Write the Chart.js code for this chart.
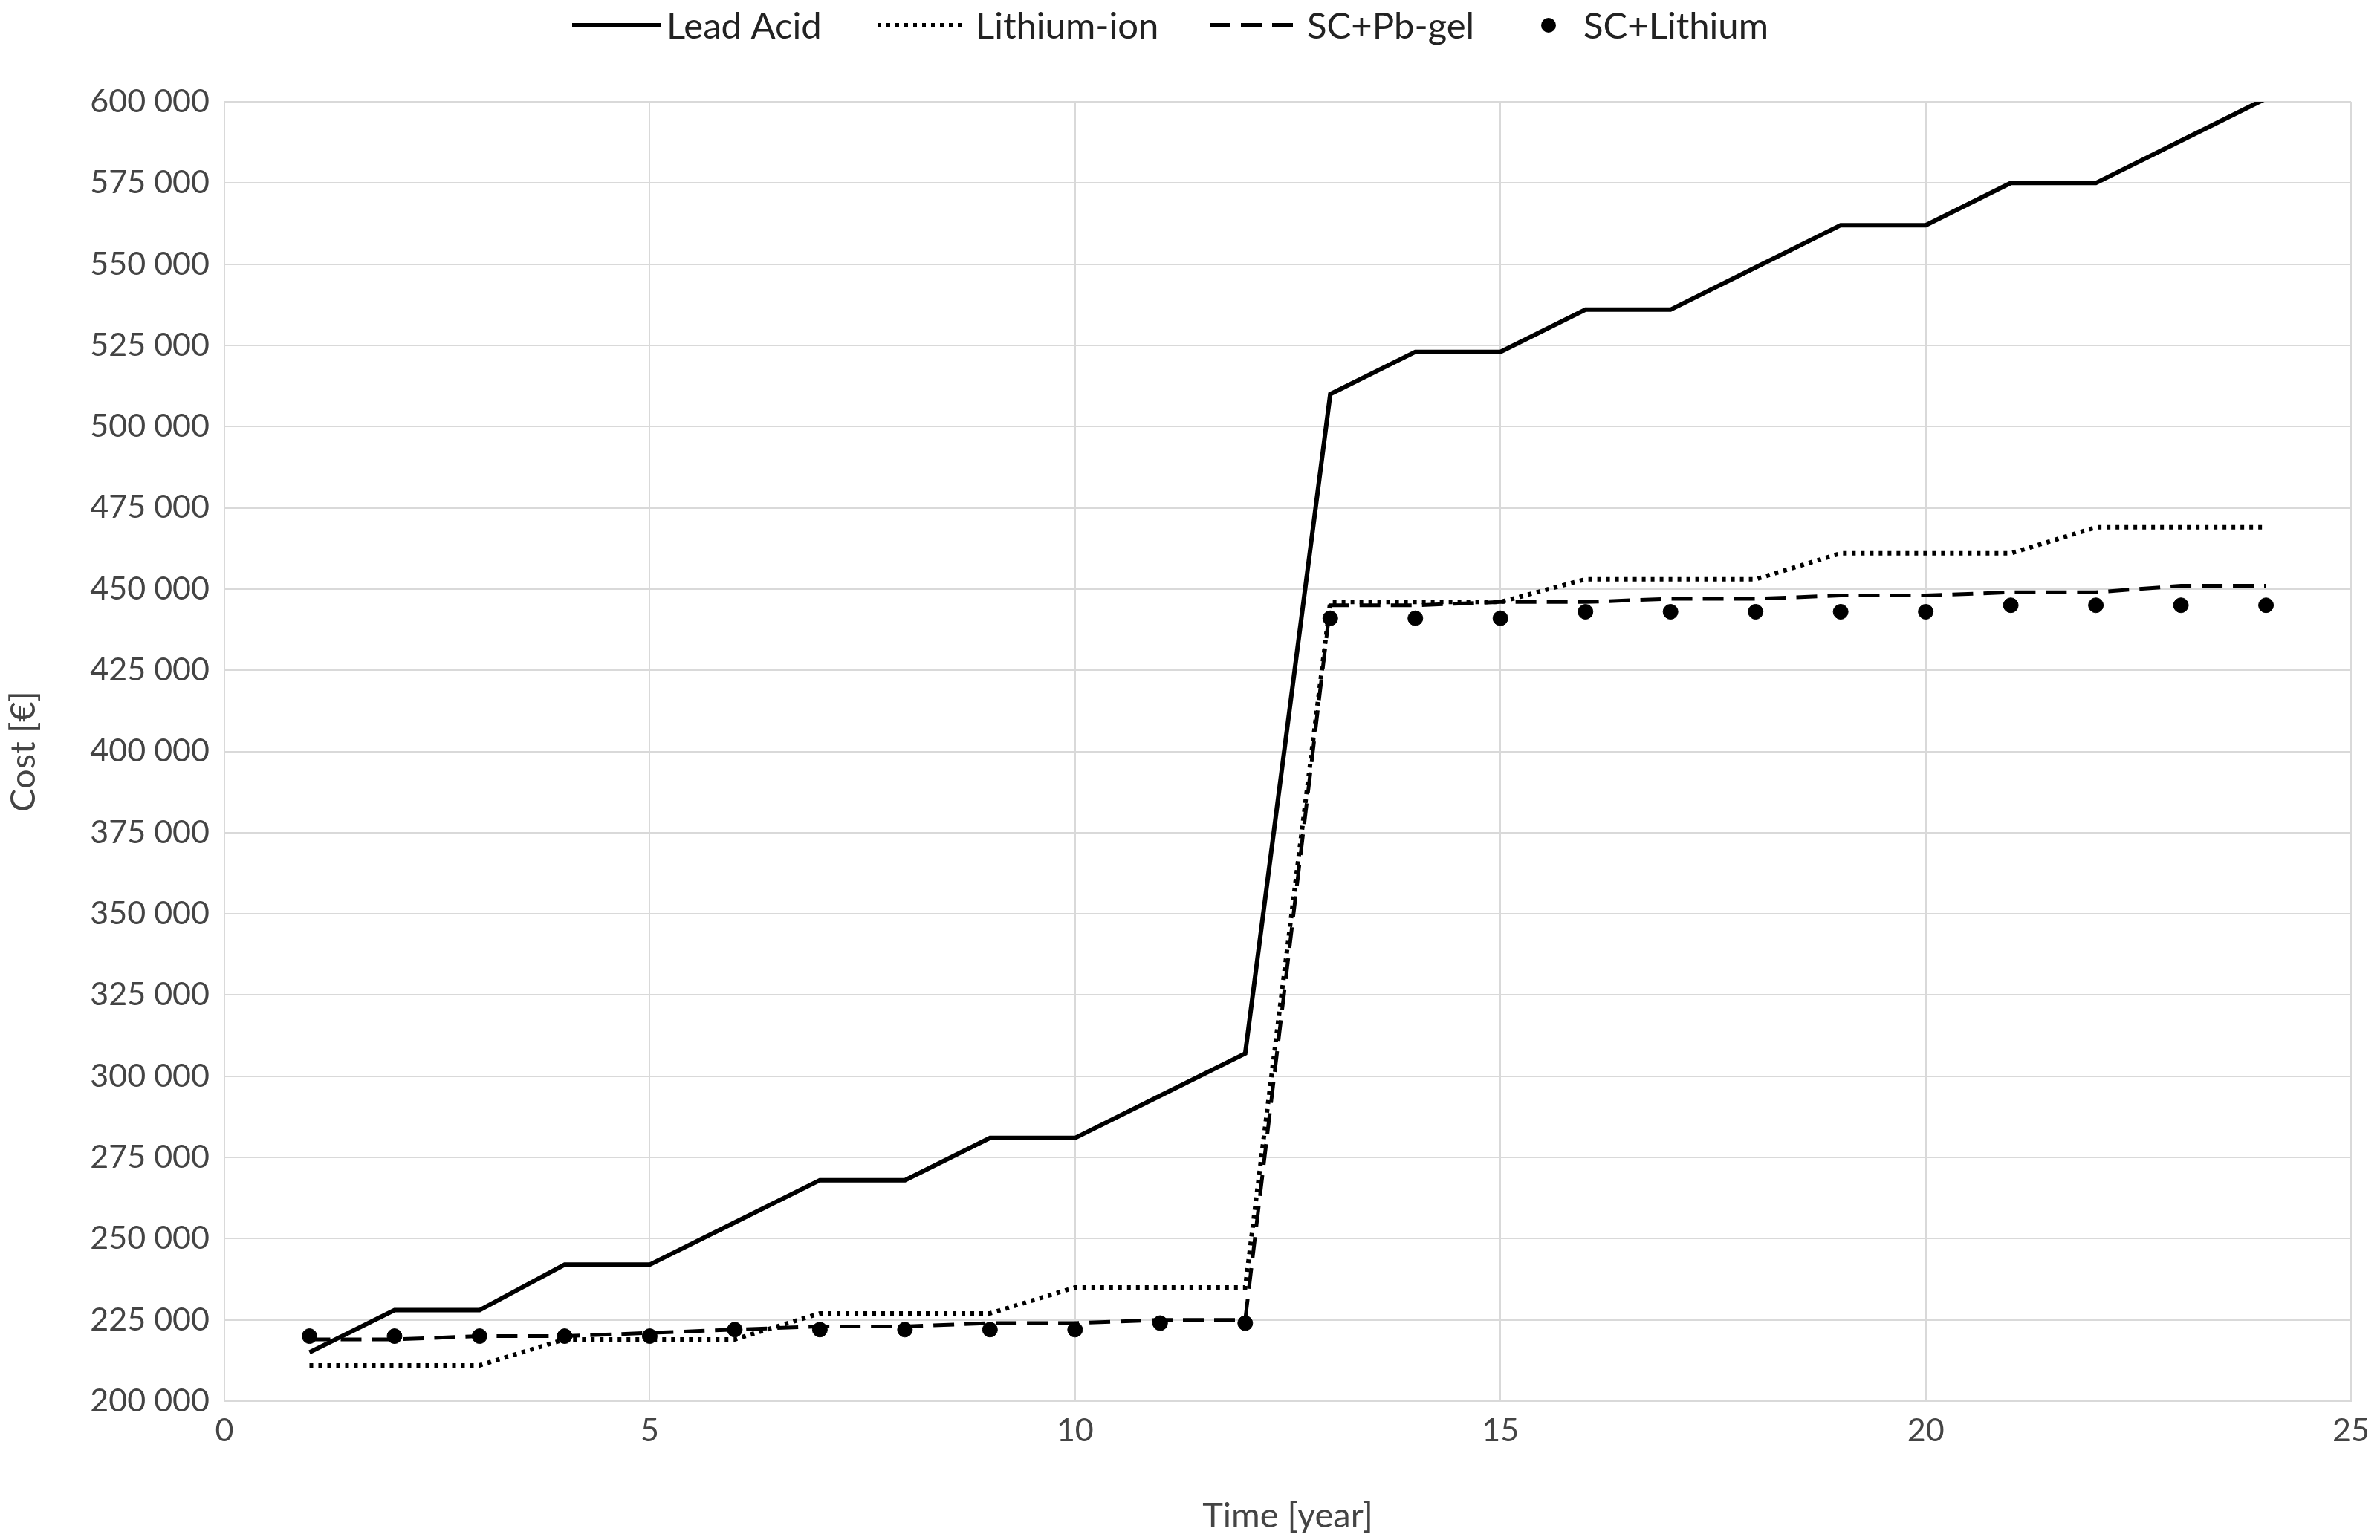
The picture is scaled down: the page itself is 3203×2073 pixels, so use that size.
<!DOCTYPE html>
<html><head><meta charset="utf-8">
<script src="https://cdn.jsdelivr.net/npm/chart.js@4"></script>
<style>html,body{margin:0;padding:0;background:#fff}#w{width:3203px;height:2073px}</style>
</head><body><div id="w"><canvas id="c"></canvas></div>
<script>
const years = [1,2,3,4,5,6,7,8,9,10,11,12,13,14,15,16,17,18,19,20,21,22,23,24];
const leadAcid = [215000,228000,228000,242000,242000,255000,268000,268000,281000,281000,294000,307000,510000,523000,523000,536000,536000,549000,562000,562000,575000,575000,588000,601000];
const lithiumIon = [211000,211000,211000,219000,219000,219000,227000,227000,227000,235000,235000,235000,446000,446000,446000,453000,453000,453000,461000,461000,461000,469000,469000,469000];
const scPbGel = [219000,219000,220000,220000,221000,222000,223000,223000,224000,224000,225000,225000,445000,445000,446000,446000,447000,447000,448000,448000,449000,449000,451000,451000];
const scLithium = [220000,220000,220000,220000,220000,222000,222000,222000,222000,222000,224000,224000,441000,441000,441000,443000,443000,443000,443000,443000,445000,445000,445000,445000];
const seriesNames = ["Lead Acid","Lithium-ion","SC+Pb-gel","SC+Lithium"];
const xTicks = [0,5,10,15,20,25];

const pts = a => years.map((x,i)=>({x, y:a[i]}));
const F = "Lato, 'Open Sans', sans-serif";
const fmt = v => { const s = String(Math.round(v)); return s.replace(/\B(?=(\d{3})+(?!\d))/g, " "); };

const legendPlugin = {
  id:'customLegend',
  afterDraw(chart){
    const ctx = chart.ctx; const y = 34;
    ctx.save(); ctx.font = "49px " + F; ctx.fillStyle = "#222"; ctx.textBaseline = "middle";
    const items = [
      {x0:770,x1:889,dash:[],tx:897},
      {x0:1181,x1:1301,dash:[5,7],tx:1313},
      {x0:1628,x1:1747,dash:[28,14],tx:1759},
      {dot:2084,tx:2131}
    ];
    items.forEach((it,i)=>{
      ctx.strokeStyle="#000"; ctx.fillStyle="#000";
      if(it.dot){ ctx.beginPath(); ctx.arc(it.dot,y,10,0,Math.PI*2); ctx.fill(); }
      else { ctx.lineWidth=6; ctx.setLineDash(it.dash); ctx.beginPath(); ctx.moveTo(it.x0,y); ctx.lineTo(it.x1,y); ctx.stroke(); ctx.setLineDash([]); }
      ctx.fillStyle="#222"; ctx.textAlign="left"; ctx.fillText(seriesNames[i], it.tx, y+2);
    });
    ctx.restore();
  }
};

new Chart(document.getElementById('c'), {
  type:'line',
  data:{ datasets:[
    {label:seriesNames[0], data:pts(leadAcid), borderColor:'#000', borderWidth:6, pointRadius:0, tension:0},
    {label:seriesNames[1], data:pts(lithiumIon), borderColor:'#000', borderWidth:6, borderDash:[5,7], pointRadius:0, tension:0},
    {label:seriesNames[2], data:pts(scPbGel), borderColor:'#000', borderWidth:5, borderDash:[28,14], pointRadius:0, tension:0},
    {label:seriesNames[3], data:pts(scLithium), showLine:false, pointRadius:10, pointBackgroundColor:'#000', pointBorderColor:'#000'}
  ]},
  options:{
    responsive:true, maintainAspectRatio:false, animation:false,
    layout:{padding:{top:137,right:36,left:0,bottom:0}},
    plugins:{legend:{display:false}, tooltip:{enabled:false}},
    scales:{
      x:{type:'linear', min:0, max:25,
        afterBuildTicks(s){ s.ticks = xTicks.map(v=>({value:v})); },
        afterFit(s){ s.height = 187; },
        grid:{color:'#d9d9d9', lineWidth:2, drawTicks:false},
        border:{color:'#d9d9d9', width:2},
        ticks:{font:{family:F,size:43}, color:'#444', padding:14},
        title:{display:true, text:'Time [year]', font:{family:F,size:47}, color:'#444', padding:{top:10}}
      },
      y:{min:200000, max:600000,
        afterFit(s){ s.width = 302; },
        grid:{color:'#d9d9d9', lineWidth:2, drawTicks:false},
        border:{display:false},
        ticks:{stepSize:25000, font:{family:F,size:43}, color:'#444', padding:20, callback:v=>fmt(v)},
        title:{display:true, text:'Cost [€]', font:{family:F,size:47}, color:'#444', padding:{bottom:4}}
      }
    }
  },
  plugins:[legendPlugin]
});
</script></body></html>
